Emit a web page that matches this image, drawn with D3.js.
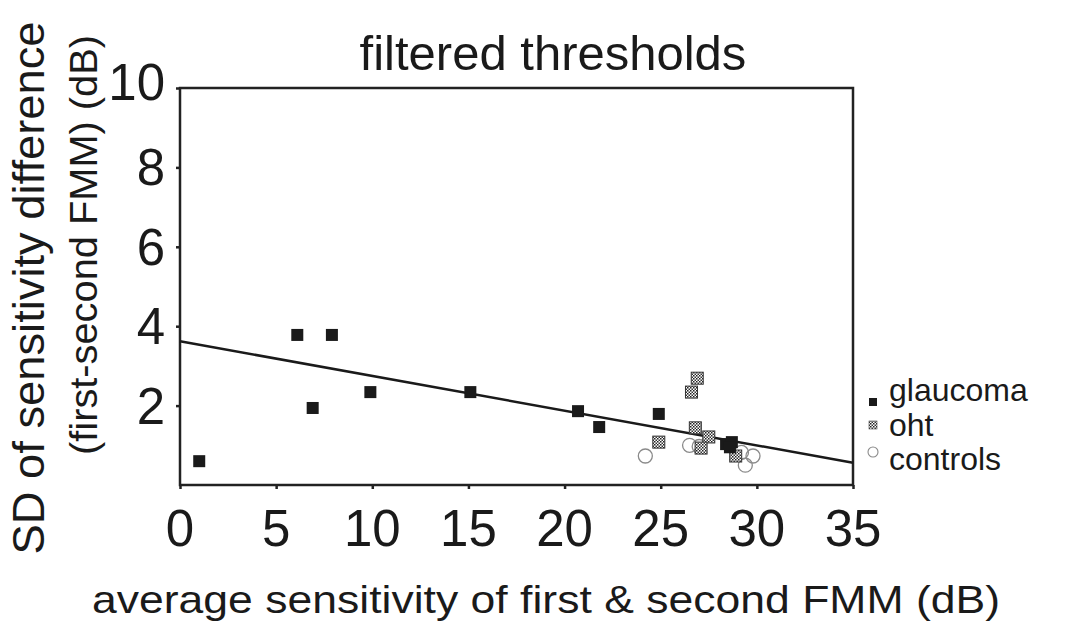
<!DOCTYPE html>
<html>
<head>
<meta charset="utf-8">
<script src="https://cdn.jsdelivr.net/npm/d3@7"></script>
<style>
  html, body { margin: 0; padding: 0; background: #fff; }
  svg { display: block; }
  text { font-family: "Liberation Sans", Arial, sans-serif; fill: #1a1a1a; }
</style>
</head>
<body>
<svg id="chart" width="1065" height="627"></svg>
<script>
// ---- data ----
const title = "filtered thresholds";
const xLabel = "average sensitivity of first & second FMM (dB)";
const yLabel1 = "SD of sensitivity difference";
const yLabel2 = "(first-second FMM) (dB)";
const xTicks = [0, 5, 10, 15, 20, 25, 30, 35];
const yTicks = [2, 4, 6, 8, 10];
const seriesNames = ["glaucoma", "oht", "controls"];
const glaucoma = [
  [1.0, 0.6], [6.1, 3.78], [7.9, 3.78], [6.9, 1.94], [9.9, 2.34], [15.1, 2.34],
  [20.7, 1.86], [21.8, 1.46], [24.9, 1.79], [28.4, 1.03], [28.7, 1.08], [28.6, 0.95]
];
const oht = [
  [26.9, 2.69], [26.6, 2.34], [26.8, 1.44], [27.5, 1.21], [24.9, 1.08], [27.1, 0.93], [28.9, 0.73]
];
const controls = [
  [24.2, 0.73], [26.5, 1.0], [27.0, 0.97], [29.4, 0.5], [29.8, 0.73], [29.2, 0.82]
];
const fitLine = [[0, 3.62], [35, 0.56]];

// ---- layout ----
const svg = d3.select("#chart");
const L = 180, R = 853, T = 88, B = 485;
const x = d3.scaleLinear().domain([0, 35]).range([L, R]);
const y = d3.scaleLinear().domain([0, 10]).range([B, T]);

const defs = svg.append("defs");
const pat = defs.append("pattern").attr("id", "checker")
  .attr("width", 3).attr("height", 3).attr("patternUnits", "userSpaceOnUse");
pat.append("rect").attr("width", 3).attr("height", 3).attr("fill", "#ffffff");
pat.append("rect").attr("x", 0).attr("y", 0).attr("width", 1.5).attr("height", 1.5).attr("fill", "#222");
pat.append("rect").attr("x", 1.5).attr("y", 1.5).attr("width", 1.5).attr("height", 1.5).attr("fill", "#333");

// title
svg.append("text").attr("x", 553).attr("y", 70).attr("text-anchor", "middle")
  .attr("font-size", 49).text(title);

// axes
const xAxis = d3.axisBottom(x).tickValues(xTicks).tickSize(4).tickFormat("");
const yAxis = d3.axisLeft(y).tickValues(yTicks).tickSize(4).tickFormat("");
const gx = svg.append("g").attr("transform", `translate(0,${B})`).call(xAxis);
const gy = svg.append("g").attr("transform", `translate(${L},0)`).call(yAxis);
[gx, gy].forEach(g => {
  g.select(".domain").remove();
  g.selectAll(".tick line").attr("stroke", "#222").attr("stroke-width", 2.5);
});

// frame
svg.append("rect").attr("x", L).attr("y", T).attr("width", R - L).attr("height", B - T)
  .attr("fill", "none").attr("stroke", "#222").attr("stroke-width", 2.5);

// tick labels
svg.append("g").selectAll("text").data(xTicks).join("text")
  .attr("x", d => x(d)).attr("y", 546).attr("text-anchor", "middle")
  .attr("font-size", 51).text(d => d);
svg.append("g").selectAll("text").data(yTicks).join("text")
  .attr("x", 165).attr("y", d => y(d) + 18 - (d === 10 ? 6 : 0)).attr("text-anchor", "end")
  .attr("font-size", 51).text(d => d);

// axis labels
svg.append("text").attr("x", 546).attr("y", 613).attr("text-anchor", "middle")
  .attr("font-size", 39).attr("textLength", 908).attr("lengthAdjust", "spacingAndGlyphs")
  .text(xLabel);
svg.append("text").attr("transform", "translate(44,288) rotate(-90)").attr("text-anchor", "middle")
  .attr("font-size", 44).attr("textLength", 533).attr("lengthAdjust", "spacingAndGlyphs")
  .text(yLabel1);
svg.append("text").attr("transform", "translate(97,245) rotate(-90)").attr("text-anchor", "middle")
  .attr("font-size", 38).attr("textLength", 420).attr("lengthAdjust", "spacingAndGlyphs")
  .text(yLabel2);

// regression line
svg.append("path").datum(fitLine)
  .attr("d", d3.line().x(d => x(d[0])).y(d => y(d[1])))
  .attr("fill", "none").attr("stroke", "#1a1a1a").attr("stroke-width", 2.5);

// markers
const sq = 12, rc = 7;
svg.append("g").selectAll("circle").data(controls).join("circle")
  .attr("cx", d => x(d[0])).attr("cy", d => y(d[1])).attr("r", rc)
  .attr("fill", "none").attr("stroke", "#8a8a8a").attr("stroke-width", 1.3);
svg.append("g").selectAll("rect").data(oht).join("rect")
  .attr("x", d => x(d[0]) - sq / 2).attr("y", d => y(d[1]) - sq / 2)
  .attr("width", sq).attr("height", sq)
  .attr("fill", "url(#checker)").attr("stroke", "#333").attr("stroke-width", 1);
svg.append("g").selectAll("rect").data(glaucoma).join("rect")
  .attr("x", d => x(d[0]) - sq / 2).attr("y", d => y(d[1]) - sq / 2)
  .attr("width", sq).attr("height", sq).attr("fill", "#1a1a1a");

// legend
const legY = [401, 436, 470];
const lg = svg.append("g");
lg.append("rect").attr("x", 869).attr("y", 398).attr("width", 8).attr("height", 8).attr("fill", "#1a1a1a");
lg.append("rect").attr("x", 869).attr("y", 421).attr("width", 8).attr("height", 8)
  .attr("fill", "url(#checker)").attr("stroke", "#444").attr("stroke-width", 0.6);
lg.append("circle").attr("cx", 873).attr("cy", 452).attr("r", 5)
  .attr("fill", "none").attr("stroke", "#8a8a8a").attr("stroke-width", 1.1);
lg.selectAll("text").data(seriesNames).join("text")
  .attr("x", 889).attr("y", (d, i) => legY[i]).attr("font-size", 32).text(d => d);
</script>
</body>
</html>
